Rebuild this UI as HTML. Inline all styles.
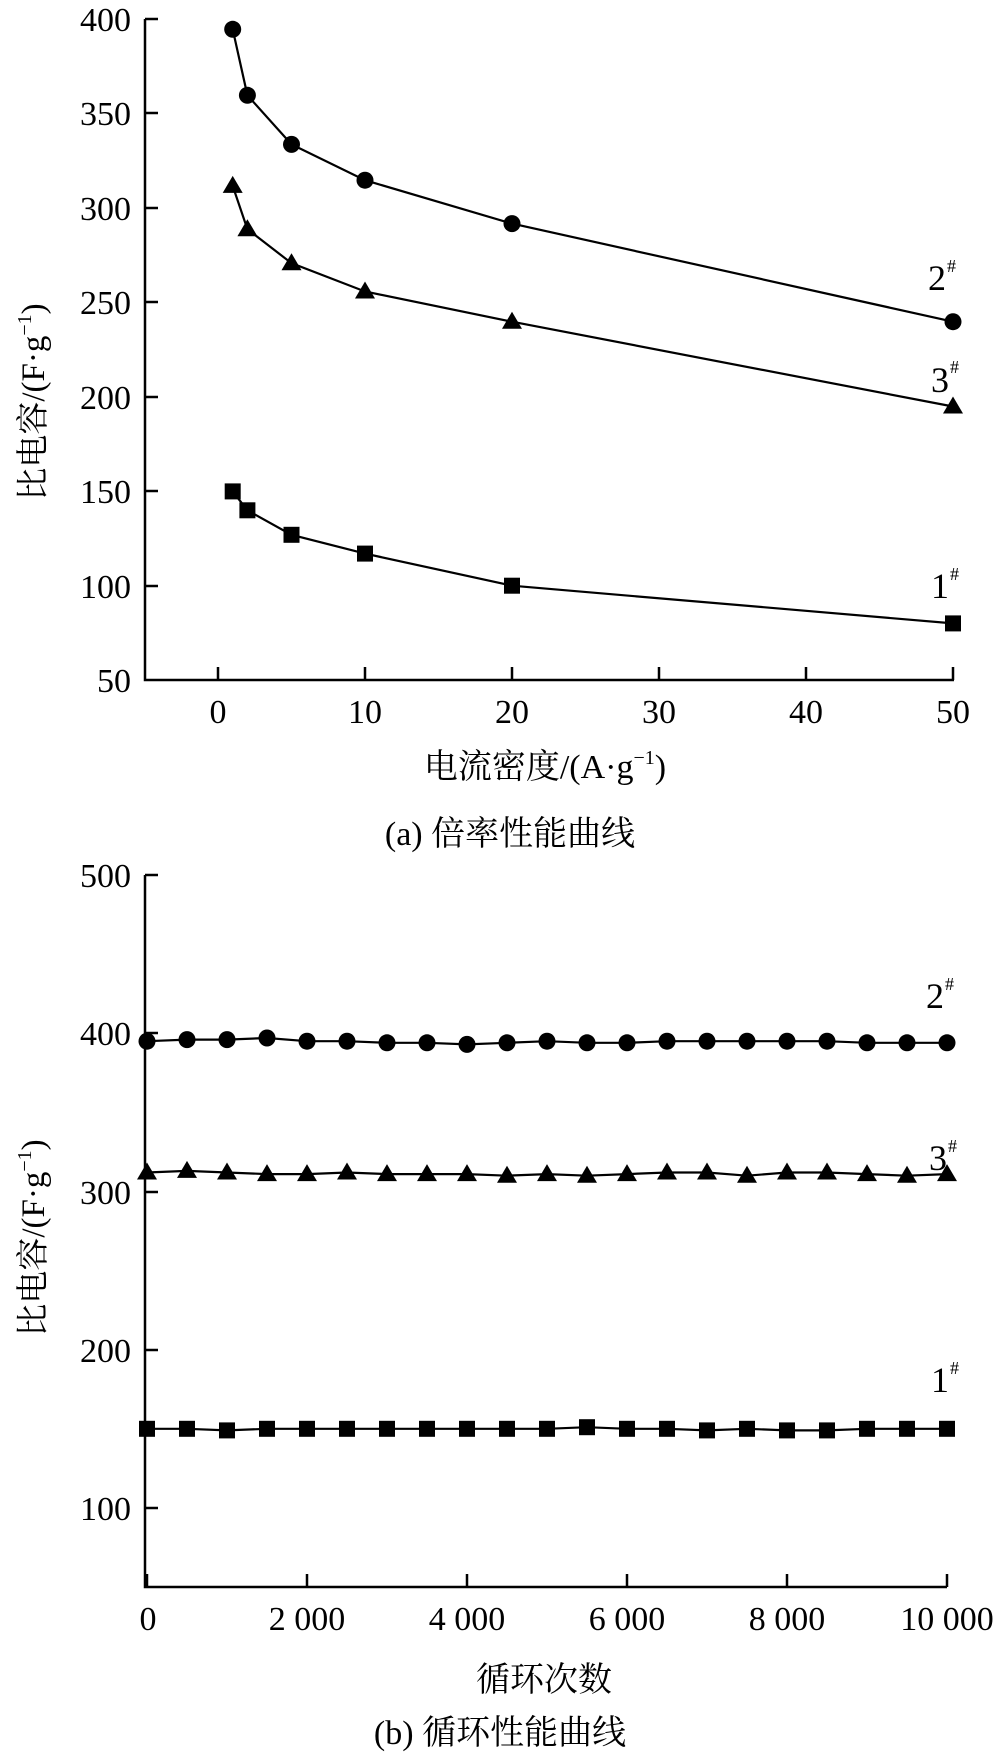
<!DOCTYPE html>
<html><head><meta charset="utf-8"><style>
html,body{margin:0;padding:0;background:#fff;}
svg{display:block;}
text{font-family:"Liberation Serif","Noto Serif CJK SC","Noto Sans CJK SC",serif;fill:#000;}
</style></head><body>
<svg width="1000" height="1754" viewBox="0 0 1000 1754" xmlns="http://www.w3.org/2000/svg">
<defs>
<marker id="c" markerUnits="userSpaceOnUse" markerWidth="20" markerHeight="20" refX="10" refY="10" overflow="visible"><circle cx="10" cy="10" r="8.5" fill="#000"/></marker>
<marker id="t" markerUnits="userSpaceOnUse" markerWidth="22" markerHeight="22" refX="11" refY="11" overflow="visible"><polygon points="11,1 21,18 1,18" fill="#000"/></marker>
<marker id="s" markerUnits="userSpaceOnUse" markerWidth="16" markerHeight="16" refX="8" refY="8" overflow="visible"><rect x="0" y="0" width="16" height="16" fill="#000"/></marker>
</defs>

<g stroke="#000" stroke-width="2.5" fill="none">
<polyline points="145,19 145,680 954,680"/>
<path d="M145,19h13 M145,113h13 M145,208h13 M145,302h13 M145,397h13 M145,491h13 M145,586h13"/>
<path d="M218,680v-13 M365,680v-13 M512,680v-13 M659,680v-13 M806,680v-13 M953,680v-13"/>
</g>
<g font-size="34" text-anchor="end">
<text x="131" y="31">400</text><text x="131" y="125">350</text><text x="131" y="220">300</text>
<text x="131" y="314">250</text><text x="131" y="409">200</text><text x="131" y="503">150</text>
<text x="131" y="598">100</text><text x="131" y="692">50</text>
</g>
<g font-size="34" text-anchor="middle">
<text x="218" y="723">0</text><text x="365" y="723">10</text><text x="512" y="723">20</text>
<text x="659" y="723">30</text><text x="806" y="723">40</text><text x="953" y="723">50</text>
</g>
<g stroke="#000" stroke-width="2.2" fill="none">
<polyline marker-start="url(#c)" marker-mid="url(#c)" marker-end="url(#c)" points="232.7,29.3 247.4,95.3 291.5,144.4 365,180.2 512,223.6 953,321.7"/>
<polyline marker-start="url(#t)" marker-mid="url(#t)" marker-end="url(#t)" points="232.7,185.9 247.4,229.2 291.5,263.2 365,291.5 512,321.7 953,406.5"/>
<polyline marker-start="url(#s)" marker-mid="url(#s)" marker-end="url(#s)" points="232.7,491.4 247.4,510.3 291.5,534.8 365,553.6 512,585.7 953,623.4"/>
</g>
<g font-size="36">
<text x="928" y="290">2</text><text x="931" y="392">3</text><text x="931" y="598">1</text>
</g>
<g font-size="18" fill="#666">
<text x="947" y="272" fill="#666">#</text><text x="950" y="373" fill="#666">#</text><text x="950" y="580" fill="#666">#</text>
</g>
<text x="545" y="778" font-size="34" text-anchor="middle">电流密度/(A·g<tspan font-size="20" dy="-14">−1</tspan><tspan dy="14">)</tspan></text>
<text x="510" y="845" font-size="34" text-anchor="middle">(a)  倍率性能曲线</text>
<text transform="translate(44,402) rotate(-90)" font-size="33" text-anchor="middle">比电容/(F·g<tspan font-size="20" dy="-13">−1</tspan><tspan dy="13">)</tspan></text>

<g stroke="#000" stroke-width="2.5" fill="none">
<polyline points="145,875 145,1587 947,1587"/>
<path d="M145,875h13 M145,1033h13 M145,1192h13 M145,1350h13 M145,1508h13"/>
<path d="M147,1587v-13 M307,1587v-13 M467,1587v-13 M627,1587v-13 M787,1587v-13 M947,1587v-13"/>
</g>
<g font-size="34" text-anchor="end">
<text x="131" y="887">500</text><text x="131" y="1045">400</text><text x="131" y="1204">300</text>
<text x="131" y="1362">200</text><text x="131" y="1520">100</text>
</g>
<g font-size="34" text-anchor="middle">
<text x="148" y="1630">0</text><text x="307" y="1630">2 000</text><text x="467" y="1630">4 000</text>
<text x="627" y="1630">6 000</text><text x="787" y="1630">8 000</text><text x="947" y="1630">10 000</text>
</g>
<g stroke="#000" stroke-width="2.2" fill="none">
<polyline marker-start="url(#c)" marker-mid="url(#c)" marker-end="url(#c)" points="147,1041.2 187,1039.6 227,1039.6 267,1038 307,1041.2 347,1041.2 387,1042.8 427,1042.8 467,1044.4 507,1042.8 547,1041.2 587,1042.8 627,1042.8 667,1041.2 707,1041.2 747,1041.2 787,1041.2 827,1041.2 867,1042.8 907,1042.8 947,1042.8"/>
<polyline marker-start="url(#t)" marker-mid="url(#t)" marker-end="url(#t)" points="147,1172.5 187,1170.9 227,1172.5 267,1174.1 307,1174.1 347,1172.5 387,1174.1 427,1174.1 467,1174.1 507,1175.7 547,1174.1 587,1175.7 627,1174.1 667,1172.5 707,1172.5 747,1175.7 787,1172.5 827,1172.5 867,1174.1 907,1175.7 947,1174.1"/>
<polyline marker-start="url(#s)" marker-mid="url(#s)" marker-end="url(#s)" points="147,1428.8 187,1428.8 227,1430.4 267,1428.8 307,1428.8 347,1428.8 387,1428.8 427,1428.8 467,1428.8 507,1428.8 547,1428.8 587,1427.2 627,1428.8 667,1428.8 707,1430.4 747,1428.8 787,1430.4 827,1430.4 867,1428.8 907,1428.8 947,1428.8"/>
</g>
<g font-size="36">
<text x="926" y="1008">2</text><text x="929" y="1170">3</text><text x="931" y="1392">1</text>
</g>
<g font-size="18" fill="#666">
<text x="945" y="990">#</text><text x="948" y="1152">#</text><text x="950" y="1374">#</text>
</g>
<text transform="translate(44,1238) rotate(-90)" font-size="33" text-anchor="middle">比电容/(F·g<tspan font-size="20" dy="-13">−1</tspan><tspan dy="13">)</tspan></text>
<text x="544" y="1691" font-size="34" text-anchor="middle">循环次数</text>
<text x="500" y="1744" font-size="34" text-anchor="middle">(b)  循环性能曲线</text>
</svg>
</body></html>
